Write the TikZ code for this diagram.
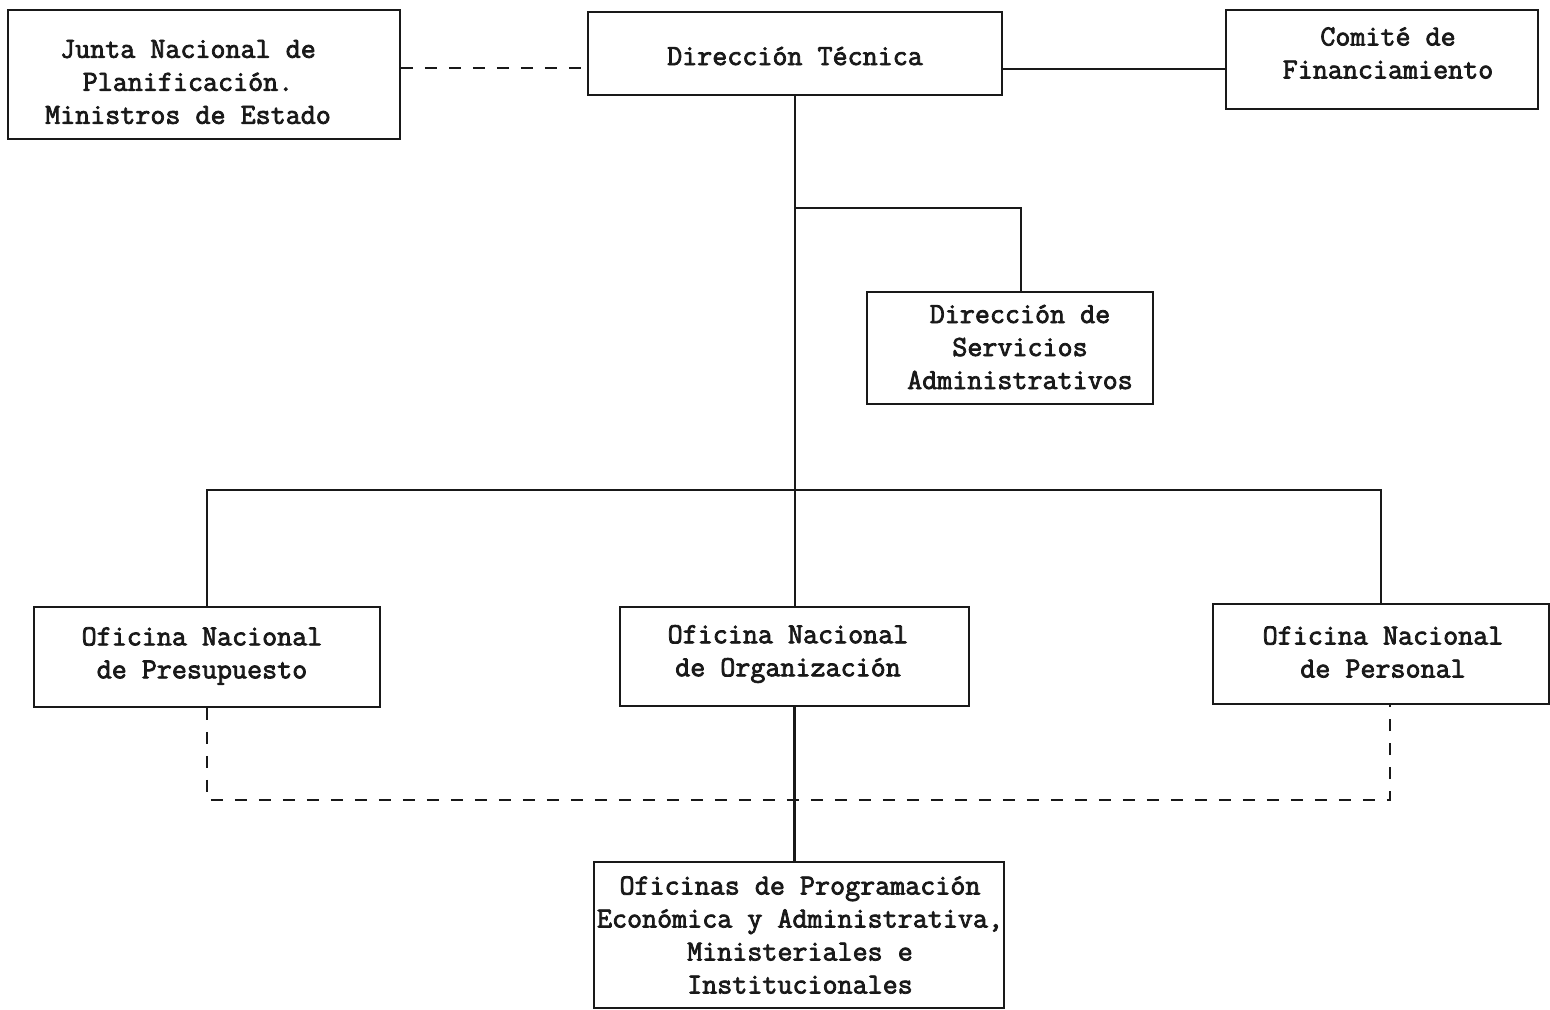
\documentclass[tikz,border=0pt]{standalone}
\usepackage{fontspec}
\newfontfamily\tw[FakeBold=2.6]{Latin Modern Mono}
\usetikzlibrary{calc}
\begin{document}
\begin{tikzpicture}[x=0.5pt,y=-0.5pt,
  box/.style={draw=black!90,line width=0.8pt,rectangle,minimum width=#1,inner sep=0pt},
  txt/.style={font=\tw\fontsize{14.6}{16.5}\selectfont,align=center,inner sep=0pt,text=black!90},
  conn/.style={draw=black!90,line width=1.2pt},
  dconn/.style={draw=black!90,line width=1.2pt,dash pattern=on 6pt off 6pt}]
\useasboundingbox[fill=white] (0,0) rectangle (1550,1010);
% boxes
\node[box=196pt,minimum height=64.5pt] (J) at (204,74.5) {};
\node[txt] at (188,82) {Junta Nacional de\\Planificación.\hspace*{1.1em}\\Ministros de Estado};
\node[box=207pt,minimum height=41.5pt] (DT) at (795,53.5) {};
\node[txt] at (795,56) {Dirección Técnica};
\node[box=156pt,minimum height=49.5pt] (C) at (1382,59.5) {};
\node[txt] at (1388,53) {Comité de\\Financiamiento};
\node[box=143pt,minimum height=56pt] (DSA) at (1010,348) {};
\node[txt] at (1020,347) {Dirección de\\Servicios\\Administrativos};
\node[box=173pt,minimum height=50pt] (OP) at (207,657) {};
\node[txt] at (202,656) {Oficina Nacional\\de Presupuesto};
\node[box=174.5pt,minimum height=49.5pt] (OO) at (794.5,656.5) {};
\node[txt] at (788,654) {Oficina Nacional\\de Organización};
\node[box=168pt,minimum height=50pt] (OPer) at (1381,654) {};
\node[txt] at (1383,652) {Oficina Nacional\\de Personal};
\node[box=205pt,minimum height=73pt] (OPr) at (799,935) {};
\node[txt] at (800,935) {Oficinas de Programación\\Económica y Administrativa,\\Ministeriales e\\Institucionales};
% helper coordinates
\coordinate (y68) at (0,68);
\coordinate (y69) at (0,69);
\coordinate (br) at (795,208);
\coordinate (bus) at (795,490);
\coordinate (dl) at (0,800);
% connectors
\draw[dconn] (J.east |- y68) -- (DT.west |- y68);
\draw[conn] (DT.east |- y69) -- (C.west |- y69);
\draw[conn] (DT.south) -- (DT.south |- OO.north);
\draw[conn] (br) -| ($(DSA.north)+(11,0)$);
\draw[conn] (OP.north) |- (bus) -| (OPer.north);
\draw[conn] (OO.south) -- (OO.south |- OPr.north);
\draw[dconn] (OP.south) |- (dl -| OO.south) -| ($(OPer.south)+(9,0)$);
\end{tikzpicture}
\end{document}
